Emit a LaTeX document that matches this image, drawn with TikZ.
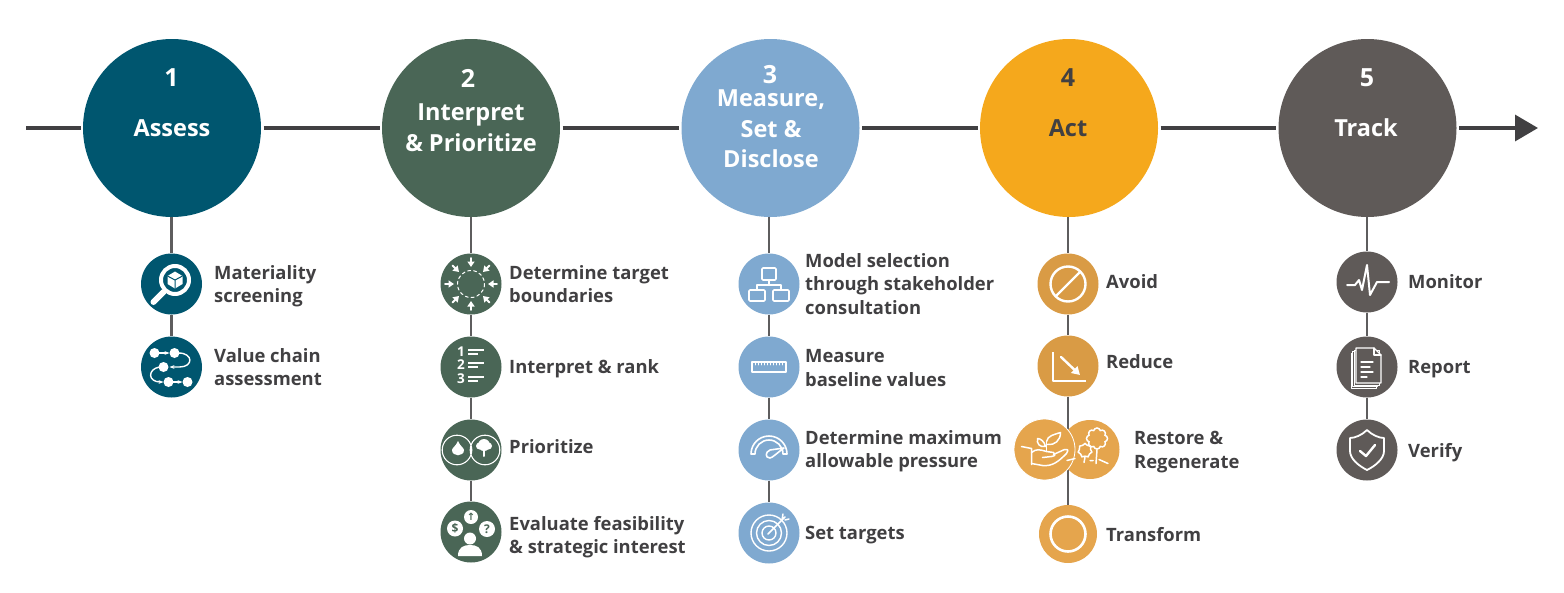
\documentclass[tikz,border=0pt]{standalone}
\usepackage{fontspec}
\setmainfont{Open Sans}
\newfontfamily\symbolfont{DejaVu Sans}
\usepackage{tikz}
\usetikzlibrary{arrows.meta,shapes.symbols}
\definecolor{teal}{HTML}{00566F}
\definecolor{moss}{HTML}{4A6656}
\definecolor{sky}{HTML}{7FA9D0}
\definecolor{amber}{HTML}{F5A81C}
\definecolor{ochre}{HTML}{D99B45}
\definecolor{sand}{HTML}{E5A54D}
\definecolor{slate}{HTML}{5F5A58}
\definecolor{ink}{HTML}{414042}
\tikzset{
  stage/.style={circle,minimum size=178pt,inner sep=0pt,outer sep=2.5pt,fill=#1},
  sub/.style={circle,minimum size=61pt,inner sep=0pt,fill=#1},
  num/.style={text=white,inner sep=0pt,font=\fontsize{25}{25}\selectfont\bfseries},
  head/.style={text=white,inner sep=0pt,align=center,font=\fontsize{23.5}{31}\selectfont\bfseries},
  lbl/.style={anchor=west,inner sep=0pt,align=left,text=ink,font=\fontsize{18.4}{23.5}\selectfont\bfseries},
  axis/.style={draw=ink,line width=3.4pt},
  stem/.style={draw=ink!85,line width=2.2pt},
  drop/.style={stem,shorten <=-3pt},
  icon/.style={draw=white,line width=1.8pt,line cap=round,line join=round},
  badge/.style={circle,fill=white,inner sep=0pt,text=moss,font=\fontsize{12}{12}\selectfont\bfseries}
}
\begin{document}
\begin{tikzpicture}[x=1pt,y=-1pt]
\useasboundingbox (0,0) rectangle (1564,592);
\coordinate (start) at (26,128);
\coordinate (stop) at (1538,128);
% main stages
\node[stage=teal] (assess) at (172,128) {};
\node[stage=moss] (interpret) at (471,128) {};
\node[stage=sky] (measure) at (770.5,128) {};
\node[stage=amber] (act) at (1069,128) {};
\node[stage=slate] (track) at (1367.5,128) {};
\draw[axis] (start)--(assess);
\draw[axis] (assess)--(interpret);
\draw[axis] (interpret)--(measure);
\draw[axis] (measure)--(act);
\draw[axis] (act)--(track);
\draw[axis,-{Triangle[length=23pt,width=26pt]}] (track)--(stop);
\node[num] (n1) at (171.5,78) {1};
\node[num] (n2) at (468,78) {2};
\node[num] (n3) at (770,75) {3};
\node[num,text=ink] (n4) at (1068,78) {4};
\node[num] (n5) at (1367,78) {5};
\node[head] (t1) at (172,128) {Assess};
\node[head] (t2) at (471,128) {Interpret\\[0pt]\& Prioritize};
\node[head,font=\fontsize{23.5}{30.5}\selectfont\bfseries] (t3) at (771,129) {Measure,\\Set \&\\Disclose};
\node[head,text=ink] (t4) at (1068,128) {Act};
\node[head] (t5) at (1366,128) {Track};
% column 1
\node[sub=teal] (screen) at (171.5,284) {};
\node[sub=teal] (chain) at (171.5,367) {};
\draw[drop] (screen|-assess.south)--(screen);
\draw[stem] (screen)--(chain);
\node[lbl] (l11) at (214,286) {Materiality\\screening};
\node[lbl] (l12) at (214,367) {Value chain\\assessment};
\begin{scope}[shift={(171.5,284)}]
\draw[icon,line width=4pt] (3.5,-4) circle[radius=14];
\draw[icon,line width=6pt] (-8,8)--(-18,18);
\fill[white] (3.5,-12.5)--(11,-8)--(11,0)--(3.5,4.5)--(-4,0)--(-4,-8)--cycle;
\draw[teal,line width=1pt] (-4,-8)--(3.5,-4)--(11,-8) (3.5,-4)--(3.5,4.5);
\end{scope}
\begin{scope}[shift={(171.5,367)}]
\fill[white] (-17,-14) circle[radius=5] (3,-14) circle[radius=5] (-8,0) circle[radius=5] (-3,15) circle[radius=5] (16,15) circle[radius=5];
\draw[icon,line width=1.4pt,-{Stealth[length=5pt]}] (-13,-14)--(-2,-14);
\draw[icon,line width=1.4pt,-{Stealth[length=5pt]}] (7,-14) .. controls (22,-14) and (22,0) .. (8,0)--(-2,0);
\draw[icon,line width=1.4pt,-{Stealth[length=5pt]}] (-12,0) .. controls (-24,2) and (-24,15) .. (-8,15);
\draw[icon,line width=1.4pt,-{Stealth[length=5pt]}] (1,15)--(11,15);
\end{scope}
% column 2
\node[sub=moss] (bound) at (471,284) {};
\node[sub=moss] (rank) at (471,367) {};
\node[sub=moss] (prior) at (471,450) {};
\node[sub=moss] (feas) at (471,532) {};
\draw[drop] (interpret)--(bound);
\draw[stem] (bound)--(rank);
\draw[stem] (rank)--(prior);
\draw[stem] (prior)--(feas);
\node[lbl] (l21) at (509,284) {Determine target\\boundaries};
\node[lbl] (l22) at (509,369) {Interpret \& rank};
\node[lbl] (l23) at (509,447) {Prioritize};
\node[lbl] (l24) at (509,537) {Evaluate feasibility\\\& strategic interest};
\begin{scope}[shift={(471,284)}]
\draw[icon,line width=1pt,dashed] (0,0) circle[radius=13.5];
\foreach \a in {0,45,...,315}
  \draw[icon,-{Triangle[length=5.5pt,width=7pt]}] (\a:26)--(\a:17);
\end{scope}
\begin{scope}[shift={(471,367)}]
\foreach \n/\y in {1/-15,2/-2,3/12}{
  \node[text=white,inner sep=0pt,font=\fontsize{13.5}{14}\selectfont\bfseries] (rank\n) at (-10,\y) {\n};
  \draw[icon,line width=2pt,line cap=butt] (-3,\y-2)--(13,\y-2);
  \draw[icon,line width=2pt,line cap=butt] (-3,\y+2)--(7,\y+2);
}
\end{scope}
\begin{scope}[shift={(471,450)}]
\draw[icon,line width=1.1pt] (-14,0) circle[radius=14.8] (14,0) circle[radius=14.8];
\fill[white] (-13,-9) .. controls (-11,-4) and (-7,-2) .. (-7,0) .. controls (-7,7) and (-19,7) .. (-19,0) .. controls (-19,-2) and (-15,-4) .. (-13,-9);
\fill[white] (13,-5) circle[radius=6] (8.5,-4) circle[radius=3.5] (17.5,-4) circle[radius=3.5];
\draw[icon,line width=2pt] (13,-3)--(13,6);
\end{scope}
\begin{scope}[shift={(471,532)}]
\fill[white] (-1,6.5) circle[radius=6];
\fill[white] (-13,24) .. controls (-13,15) and (-7,13) .. (-1,13) .. controls (5,13) and (11,15) .. (11,24)--cycle;
\node[badge,minimum size=14pt,font=\symbolfont\fontsize{10}{10}\selectfont\bfseries] (up) at (0,-15) {↑};
\node[badge,minimum size=16pt] (dollar) at (-16,-3.5) {\$};
\node[badge,minimum size=16pt] (query) at (16,-3) {?};
\end{scope}
% column 3
\node[sub=sky] (model) at (769,284) {};
\node[sub=sky] (base) at (769,367) {};
\node[sub=sky] (press) at (769,450) {};
\node[sub=sky] (goal) at (769,533) {};
\draw[drop] (model|-measure.south)--(model);
\draw[stem] (model)--(base);
\draw[stem] (base)--(press);
\draw[stem] (press)--(goal);
\node[lbl] (l31) at (805,284) {Model selection\\through stakeholder\\consultation};
\node[lbl] (l32) at (805,368) {Measure\\baseline values};
\node[lbl] (l33) at (805,451) {Determine maximum\\allowable pressure};
\node[lbl] (l34) at (805,535) {Set targets};
\begin{scope}[shift={(769,284)}]
\draw[icon,line width=1.6pt,rounded corners=1pt] (-7,-16) rectangle (7,-4) (-20,6) rectangle (-4,17) (4,6) rectangle (20,17);
\draw[icon,line width=1.6pt] (0,-4)--(0,1) (-12,6)--(-12,1)--(12,1)--(12,6);
\end{scope}
\begin{scope}[shift={(769,367)}]
\draw[icon,line width=1.2pt] (-17,-5) rectangle (17,5);
\foreach \x in {-14,-11,...,14}
  \draw[icon,line width=0.8pt] (\x,-5)--(\x,-2);
\end{scope}
\begin{scope}[shift={(769,450)}]
\draw[icon,line width=1.6pt] (-18,4) arc[start angle=180,end angle=360,radius=18]--(14,4) arc[start angle=360,end angle=180,radius=14]--cycle;
\draw[icon,line width=1.6pt] (15,-2)--(1,0) .. controls (-4,2) and (-4,8) .. (1,8) .. controls (3,8) and (8,3) .. (15,-2);
\end{scope}
\begin{scope}[shift={(769,533)}]
\draw[icon,line width=1.4pt] (0,0) circle[radius=18] (0,0) circle[radius=12.5] (0,0) circle[radius=7];
\draw[icon,line width=1.5pt] (-1,1)--(16,-16) (13,-13)--(14,-19) (16,-13)--(20,-14);
\end{scope}
% column 4
\node[sub=ochre] (avoid) at (1068,284) {};
\node[sub=ochre] (lower) at (1068,366) {};
\node[sub=sand,minimum size=58pt] (trans) at (1068,534) {};
\draw[drop] (avoid|-act.south)--(avoid);
\draw[stem] (avoid)--(lower);
\draw[stem] (lower)--(trans);
\node[sub=sand,minimum size=59pt] (regen) at (1090,449.5) {};
\node[sub=sand,draw=white,line width=0.8pt] (restore) at (1044.5,449.5) {};
\node[lbl] (l41) at (1106,282) {Avoid};
\node[lbl] (l42) at (1106,362) {Reduce};
\node[lbl] (l43) at (1134,452) {Restore \&\\Regenerate};
\node[lbl] (l44) at (1106,535) {Transform};
\begin{scope}[shift={(1068,284)}]
\draw[icon,line width=2.4pt] (0,0) circle[radius=17.5] (-12,12)--(12,-12);
\end{scope}
\begin{scope}[shift={(1068,366)}]
\draw[icon,line width=2.4pt,line cap=butt] (-15,-14)--(-15,15)--(18,15);
\draw[icon,line width=2.4pt,-{Triangle[length=8pt,width=9pt]}] (-7,-9)--(12,9);
\end{scope}
\begin{scope}[shift={(1044.5,449.5)}]
\draw[icon,line width=1.5pt] (-23,-3)--(-13,-1)--(-13,15);
\draw[icon,line width=1.5pt] (-13,3) .. controls (-8,-1) and (-5,0) .. (2,2)--(9,3) .. controls (11,6) .. (7,7)--(-2,8);
\draw[icon,line width=1.5pt] (9,5)--(20,0) .. controls (24,0) .. (22,4) .. controls (14,12) and (8,17) .. (-2,16)--(-13,14);
\draw[icon,line width=1.5pt] (2,2)--(2,-8);
\draw[icon,line width=1.5pt] (2,-8) .. controls (3,-14) and (10,-15) .. (16,-17) .. controls (16,-9) and (10,-4) .. (3,-5);
\draw[icon,line width=1.5pt] (1,-3) .. controls (0,-8) and (-4,-11) .. (-7,-11) .. controls (-8,-6) and (-5,-2) .. (1,-3);
\end{scope}
\begin{scope}[shift={(1090,449.5)}]
\node[cloud,cloud puffs=8,aspect=1,draw=white,line width=1.5pt,minimum size=21pt,inner sep=0pt] (crownA) at (7,-11) {};
\node[cloud,cloud puffs=7,aspect=1,draw=white,line width=1.5pt,minimum size=14pt,inner sep=0pt] (crownB) at (-5,1) {};
\draw[icon,line width=1.5pt] (crownA.south)--(6,14) (crownB.south)--(-6,13);
\draw[icon,line width=1.5pt] (-23,11)--(-15,9) (0,11)--(3,11) (9,10)--(18,14);
\end{scope}
\begin{scope}[shift={(1068,534)}]
\draw[icon,line width=2.6pt] (0,0) circle[radius=17.5];
\end{scope}
% column 5
\node[sub=slate] (watch) at (1367,282) {};
\node[sub=slate] (report) at (1367,367) {};
\node[sub=slate] (check) at (1367,450) {};
\draw[drop] (watch|-track.south)--(watch);
\draw[stem] (watch)--(report);
\draw[stem] (report)--(check);
\node[lbl] (l51) at (1408,282) {Monitor};
\node[lbl] (l52) at (1408,369) {Report};
\node[lbl] (l53) at (1408,453) {Verify};
\begin{scope}[shift={(1367,282)}]
\draw[icon,line width=2pt] (-20,3)--(-12,3)--(-8,-2)--(-5,8)--(0,-17)--(3,13)--(10,0)--(22,0);
\end{scope}
\begin{scope}[shift={(1367,367)}]
\foreach \d in {4,2.5,1}
  \draw[icon,line width=1pt,fill=slate] (-12-\d,-18+\d) rectangle (13-\d,17+\d);
\draw[icon,line width=1.2pt,fill=slate] (-11,-19)--(7,-19)--(14,-12)--(14,16)--(-11,16)--cycle;
\draw[icon,line width=1.2pt] (7,-19)--(7,-12)--(14,-12);
\foreach \y/\w in {-5/12,0/9,5/12,10/6}
  \draw[icon,line width=1.2pt] (-6,\y)--(-6+\w,\y);
\end{scope}
\begin{scope}[shift={(1367,450)}]
\draw[icon,line width=1.8pt] (0,-20) .. controls (-5,-15) and (-12,-12) .. (-17,-12)--(-17,1) .. controls (-17,9) and (-8,16) .. (0,20) .. controls (8,16) and (17,9) .. (17,1)--(17,-12) .. controls (12,-12) and (5,-15) .. (0,-20)--cycle;
\draw[icon,line width=2.4pt] (-7,1)--(-1,6)--(8,-5);
\end{scope}
\end{tikzpicture}
\end{document}
